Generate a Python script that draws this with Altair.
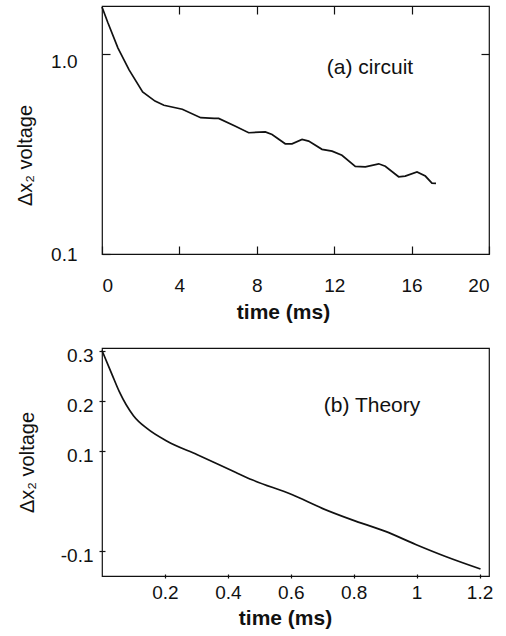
import altair as alt
import pandas as pd

# ---------------- data ----------------
# (a) circuit : time (ms) vs Δx2 voltage (log axis)
t_a = [0, 0.3, 0.82, 1.4, 2.1, 2.74, 3.2, 4.15, 5.1, 5.8, 6.03, 6.87, 7.58, 8.44,
       8.79, 9.47, 9.82, 10.34, 10.68, 11.37, 11.89, 12.40, 13.09, 13.61, 14.30,
       14.64, 15.33, 15.67, 16.28, 16.71, 17.05, 17.26]
v_a = [1.71, 1.43, 1.07, 0.83, 0.645, 0.58, 0.553, 0.528, 0.479, 0.475, 0.475,
       0.435, 0.403, 0.407, 0.395, 0.355, 0.355, 0.373, 0.366, 0.333, 0.326, 0.311,
       0.274, 0.272, 0.282, 0.274, 0.243, 0.245, 0.257, 0.245, 0.226, 0.225]

# (b) Theory : time (ms) vs Δx2 voltage (linear axis)
t_b = [0, 0.032, 0.055, 0.1, 0.144, 0.207, 0.303, 0.424, 0.477, 0.605, 0.70,
       0.795, 0.901, 0.997, 1.092, 1.203]
v_b = [0.300, 0.252, 0.218, 0.170, 0.144, 0.119, 0.092, 0.057, 0.042, 0.012,
       -0.015, -0.038, -0.061, -0.087, -0.111, -0.136]

xa_ticks = [0, 4, 8, 12, 16, 20]
ya_ticks = [0.1, 1.0]
xb_ticks = [0.2, 0.4, 0.6, 0.8, 1.0, 1.2]
yb_ticks = [0.3, 0.2, 0.1, -0.1]

label_a = "(a) circuit"
label_b = "(b) Theory"
x_title = "time (ms)"
y_title = "Δx₂ voltage"

# ---------------- styling ----------------
FONT = "Liberation Sans"
INK = "#111111"

dfa = pd.DataFrame({"t": t_a, "v": v_a})
dfb = pd.DataFrame({"t": t_b, "v": v_b})

common = dict(labelFont=FONT, labelFontSize=19, labelColor=INK, tickColor=INK,
              tickWidth=1.2, grid=False, domain=False, zindex=2)
title_x = dict(titleFont=FONT, titleFontSize=21, titleFontWeight="bold",
               titleColor=INK, titleAlign="center", titleBaseline="alphabetic",
               titleAngle=0)
title_y = dict(titleFont=FONT, titleFontSize=20, titleFontWeight="normal",
               titleColor=INK, titleAlign="center", titleBaseline="alphabetic",
               titleAngle=270)

# ---------- panel (a) ----------
xa = alt.Scale(domain=[0, 20], nice=False, zero=False)
ya = alt.Scale(type="log", domain=[0.1, 1.73], nice=False)

a_line = alt.Chart(dfa).mark_line(color=INK, strokeWidth=1.7).encode(
    x=alt.X("t:Q", scale=xa,
            axis=alt.Axis(orient="bottom", values=xa_ticks, offset=-8, tickSize=8,
                          labelPadding=22, format="d", title=x_title,
                          titleX=181, titleY=72, **title_x, **common)),
    y=alt.Y("v:Q", scale=ya,
            axis=alt.Axis(orient="left", values=ya_ticks, offset=-8, tickSize=8,
                          labelPadding=25, format=".1f",
                          labelOffset={"condition": {"test": "datum.value > 0.5", "value": 8},
                                       "value": 0},
                          title=y_title, titleX=-79, titleY=149, **title_y, **common)),
)

a_ghost = alt.Chart(dfa).mark_line(strokeOpacity=0).encode(
    x=alt.X("t:Q", scale=xa,
            axis=alt.Axis(orient="top", values=xa_ticks[1:-1], offset=-8, tickSize=8,
                          labels=False, domain=False, grid=False, title=None,
                          tickColor=INK, tickWidth=1.2, zindex=2)),
    y=alt.Y("v:Q", scale=ya,
            axis=alt.Axis(orient="right", values=ya_ticks[1:], offset=-8, tickSize=8,
                          labels=False, domain=False, grid=False, title=None,
                          tickColor=INK, tickWidth=1.2, zindex=2)),
)

a_text = alt.Chart(pd.DataFrame({"label": [label_a]})).mark_text(
    font=FONT, fontSize=21, color=INK, align="center", baseline="middle"
).encode(x=alt.value(268), y=alt.value(62), text="label:N")

top = alt.layer(a_line, a_ghost, a_text).resolve_axis(
    x="independent", y="independent"
).properties(width=387, height=248)

# ---------- panel (b) ----------
xb = alt.Scale(domain=[0, 1.23], nice=False, zero=False)
yb = alt.Scale(domain=[-0.15, 0.305], nice=False, zero=False)

b_line = alt.Chart(dfb).mark_line(color=INK, strokeWidth=1.7, interpolate="monotone").encode(
    x=alt.X("t:Q", scale=xb,
            axis=alt.Axis(orient="bottom", values=xb_ticks, offset=-2, tickSize=4,
                          labelPadding=5, format="~g", title=x_title,
                          titleX=183, titleY=50, **title_x, **common)),
    y=alt.Y("v:Q", scale=yb,
            axis=alt.Axis(orient="left", values=yb_ticks, offset=-3, tickSize=6,
                          labelPadding=6, labelOffset=5,
                          labelExpr="datum.value < 0 ? '-' + format(-datum.value, '.1f') : format(datum.value, '.1f')",
                          title=y_title, titleX=-72, titleY=114, **title_y, **common)),
)

b_text = alt.Chart(pd.DataFrame({"label": [label_b]})).mark_text(
    font=FONT, fontSize=21, color=INK, align="center", baseline="middle"
).encode(x=alt.value(270), y=alt.value(58), text="label:N")

bottom = alt.layer(b_line, b_text).properties(width=387, height=228)

chart = alt.vconcat(top, bottom, spacing=94, bounds="flush").configure_view(
    stroke=INK, strokeWidth=1.2
).properties(padding={"left": 14, "top": 3, "right": 5, "bottom": 5})

chart.save("out.html", embed_options={"renderer": "svg", "actions": False})
